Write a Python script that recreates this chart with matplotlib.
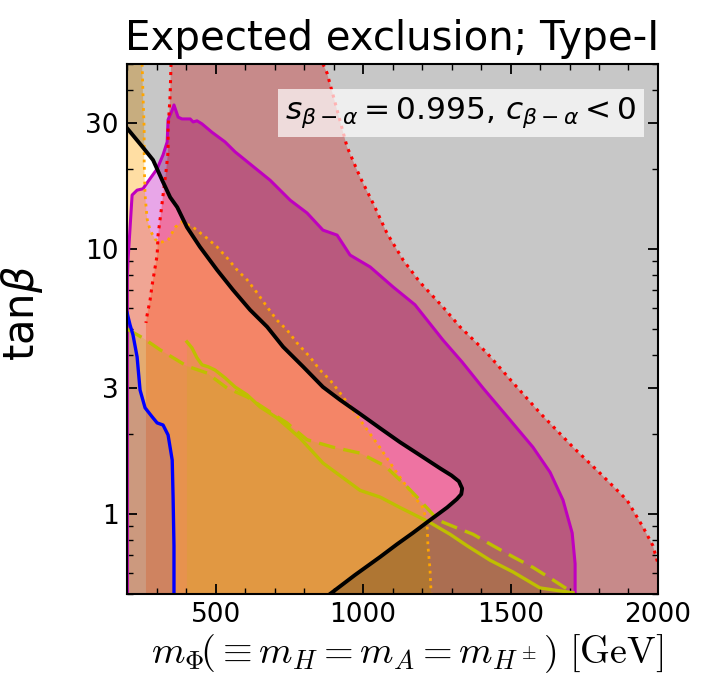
import numpy as np
import matplotlib.pyplot as plt
from matplotlib.ticker import LogLocator, NullFormatter, MultipleLocator

# curves: x = m_Phi [GeV], y = tan(beta)
theory_m = [200, 250, 288, 319, 346, 370, 403, 447, 505, 559, 617, 675, 729, 797, 864, 922, 990,
            1058, 1125, 1193, 1261, 1300, 1325, 1336, 1333, 1318, 1285, 1227, 1169, 1115, 1058, 973, 888]
theory_tb = [28.6, 24.5, 21.7, 18.2, 15.7, 14.4, 12.1, 10.2, 8.35, 7.02, 5.90, 5.09, 4.28, 3.60, 3.02,
             2.70, 2.39, 2.11, 1.87, 1.67, 1.49, 1.40, 1.33, 1.25, 1.19, 1.14, 1.06, 0.95, 0.85, 0.77,
             0.69, 0.59, 0.5]

mag_m = [201, 201, 203, 217, 234, 254, 271, 302, 322, 336, 339, 353, 359, 373, 386, 414, 424, 437, 454,
         488, 532, 566, 685, 753, 810, 864, 912, 956, 1024, 1102, 1176, 1271, 1336, 1407, 1498, 1576,
         1634, 1678, 1709, 1719, 1719]
mag_tb = [0.5, 8.0, 9.0, 16.0, 16.7, 16.9, 18.0, 20.1, 22.7, 25.4, 30.8, 33.5, 35.0, 31.5, 31.0, 31.0,
          30.2, 30.5, 29.7, 27.6, 25.4, 23.3, 18.2, 15.3, 13.7, 11.8, 11.3, 9.5, 8.57, 7.2, 6.17, 4.54,
          3.75, 2.99, 2.27, 1.79, 1.44, 1.13, 0.85, 0.65, 0.5]

redL_m = [349, 346, 339, 339, 332, 322, 315, 305, 302, 285, 278, 268, 264]
redL_tb = [50, 38.2, 28.3, 23.3, 19.6, 16.0, 13.8, 11.3, 9.5, 7.33, 6.43, 5.65, 5.27]
redR_m = [864, 878, 912, 946, 990, 1034, 1081, 1136, 1193, 1271, 1329, 1420, 1509, 1600, 1712, 1803,
          1895, 1949, 1983, 2000]
redR_tb = [50, 46.2, 33.5, 24.3, 18.7, 14.9, 11.5, 9.1, 7.5, 6.05, 5.09, 4.06, 3.13, 2.41, 1.79, 1.43,
           1.13, 0.895, 0.76, 0.65]

orng_m = [251, 254, 258, 258, 261, 268, 278, 295, 312, 339, 363, 386, 424, 471, 505, 539, 573, 607,
          641, 675, 708, 742, 776, 820, 854, 888, 922, 990, 1058, 1115, 1169, 1203, 1217, 1220, 1227, 1231]
orng_tb = [50, 38.2, 28.3, 21.3, 16.0, 13.0, 11.8, 10.9, 10.6, 10.8, 12.1, 12.7, 12.1, 11.0, 10.2,
           9.27, 8.35, 7.66, 6.84, 6.05, 5.40, 4.96, 4.43, 3.92, 3.50, 3.21, 2.87, 2.27, 1.78, 1.43,
           1.18, 1.06, 0.93, 0.76, 0.62, 0.5]

ysol_m = [403, 420, 437, 454, 475, 498, 532, 566, 607, 651, 708, 786, 864, 990, 1058, 1125, 1227,
          1295, 1353, 1431, 1509, 1600, 1712]
ysol_tb = [4.47, 4.24, 3.89, 3.66, 3.60, 3.50, 3.27, 3.02, 2.82, 2.54, 2.31, 1.94, 1.56, 1.23, 1.16,
           1.06, 0.93, 0.84, 0.76, 0.67, 0.605, 0.527, 0.505]

ydash_m = [200, 254, 312, 403, 471, 539, 607, 675, 742, 810, 898, 990, 1075, 1149, 1193, 1254, 1305,
           1373, 1441, 1509, 1576, 1644, 1712]
ydash_tb = [5.0, 4.62, 4.17, 3.62, 3.41, 2.99, 2.77, 2.47, 2.21, 1.91, 1.79, 1.70, 1.52, 1.27, 1.13,
            0.95, 0.90, 0.84, 0.76, 0.69, 0.63, 0.565, 0.505]

blue_m = [200, 210, 220, 234, 244, 261, 285, 302, 322, 339, 353, 356, 359, 359]
blue_tb = [5.75, 5.18, 4.75, 3.92, 2.94, 2.52, 2.33, 2.21, 2.17, 1.99, 1.60, 1.16, 0.76, 0.5]

xmin, xmax = 200, 2000
ymin, ymax = 0.5, 50

fig = plt.figure(figsize=(7.06, 6.8), dpi=100)
ax = fig.add_axes([0.18, 0.1265, 0.752, 0.7795])

# filled regions
ax.fill(mag_m, mag_tb, color='m', alpha=0.35, lw=0)
ax.fill(redL_m + [264, xmax] + redR_m[::-1], redL_tb + [ymin, ymin] + redR_tb[::-1],
        color='r', alpha=0.3, lw=0)
ax.fill([xmin, xmin] + orng_m, [ymin, ymax] + orng_tb, color='orange', alpha=0.36, lw=0)
ax.fill(ydash_m + [xmin], ydash_tb[:-1] + [ymin, ymin], color='y', alpha=0.24, lw=0)
ax.fill([ysol_m[0]] + ysol_m + [ysol_m[-1]], [ymin] + ysol_tb[:-1] + [ymin, ymin],
        color='y', alpha=0.15, lw=0)
ax.fill([xmin] + blue_m, [ymin] + blue_tb, color='b', alpha=0.1, lw=0)
# theoretically excluded (outside black curve)
ax.fill(theory_m + [xmax, xmax, xmin], theory_tb + [ymin, ymax, ymax], color='k', alpha=0.22, lw=0)

# boundary lines
ax.plot(mag_m, mag_tb, color='m', lw=2.2)
ax.plot(redL_m, redL_tb, color='r', ls=':', lw=2.2)
ax.plot(redR_m, redR_tb, color='r', ls=':', lw=2.2)
ax.plot(orng_m, orng_tb, color='orange', ls=':', lw=2.0)
ax.plot(ydash_m, ydash_tb, color='y', ls='--', lw=2.4, dashes=(5, 2.5))
ax.plot(ysol_m, ysol_tb, color='y', lw=2.4)
ax.plot(blue_m, blue_tb, color='b', lw=2.4)
ax.plot(theory_m, theory_tb, color='k', lw=2.8)

ax.set_yscale('log')
ax.set_xlim(xmin, xmax)
ax.set_ylim(ymin, ymax)
ax.set_yticks([1, 3, 10, 30])
ax.set_yticklabels(['1', '3', '10', '30'])
ax.yaxis.set_minor_locator(LogLocator(base=10, subs=np.arange(2, 10)))
ax.yaxis.set_minor_formatter(NullFormatter())
ax.set_xticks([500, 1000, 1500, 2000])
ax.xaxis.set_minor_locator(MultipleLocator(100))
ax.tick_params(which='both', direction='in', top=True, right=True, labelsize=19)
ax.tick_params(which='major', length=7, width=1.3)
ax.tick_params(which='minor', length=4, width=1.0)
ax.tick_params(axis='y', pad=6)
ax.tick_params(axis='x', pad=6)
for s in ax.spines.values():
    s.set_linewidth(1.5)

ax.text(0.96, 0.94, r'$s_{\beta-\alpha}=0.995$, $c_{\beta-\alpha}<0$', transform=ax.transAxes,
        ha='right', va='top', fontsize=22.5,
        bbox=dict(facecolor='white', alpha=0.7, edgecolor='none', pad=5))

ax.set_title('Expected exclusion; Type-I', fontsize=29, pad=10)
ax.set_ylabel(r'tan$\beta$', fontsize=30, labelpad=8)
ax.yaxis.set_label_coords(-0.155, 0.53)
ax.set_xlabel(r'$m_\Phi\!(\equiv m_H=m_A=m_{H^\pm})\ [\mathrm{GeV}]$', fontsize=27.5,
              math_fontfamily='cm', labelpad=1)
ax.xaxis.set_label_coords(0.527, -0.072)

fig.savefig('out.png', dpi=100)
